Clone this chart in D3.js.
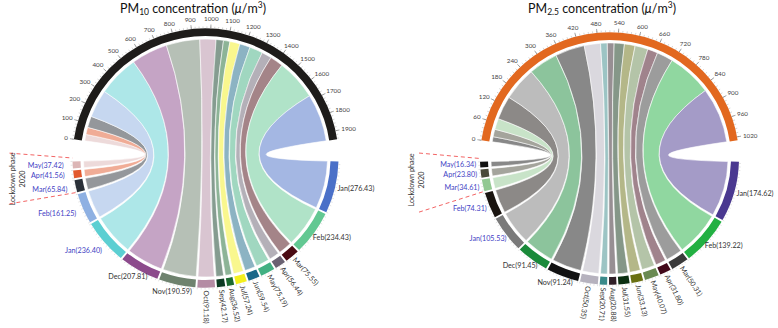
<!DOCTYPE html>
<html>
<head>
<meta charset="utf-8">
<script src="https://cdn.jsdelivr.net/npm/d3@7"></script>
<style>
body { margin: 0; background: #fff; }
svg { display: block; font-family: Lato, "Open Sans", sans-serif; }
</style>
</head>
<body>
<script>
// months, 2020 lockdown months first (clockwise from the left), then 2019
const months2020 = ["May", "Apr", "Mar", "Feb", "Jan"];
const months2019 = ["Dec", "Nov", "Oct", "Sep", "Aug", "Jul", "Jun", "May", "Apr", "Mar", "Feb", "Jan"];

const pm10_2020 = [37.42, 41.56, 65.84, 161.25, 236.40];
const pm10_2019 = [207.81, 190.59, 91.18, 42.17, 36.52, 57.24, 59.54, 75.19, 56.44, 75.55, 234.43, 276.43];
const pm25_2020 = [16.34, 23.80, 34.61, 74.31, 105.53];
const pm25_2019 = [91.45, 91.24, 50.35, 20.71, 20.88, 31.55, 33.13, 40.07, 31.80, 50.31, 139.22, 174.62];

const pm10Ticks = d3.range(0, 1901, 100);
const pm25Ticks = d3.range(0, 1021, 60);

const pm10Colors = ["#dcb6b6", "#e2592e", "#2a3038", "#8eb0e2", "#5ccfd2",
  "#8c4a8c", "#6e826e", "#b48ca4", "#0c3a22", "#1c6a30", "#f4f01e", "#1a6888",
  "#42b082", "#6a6272", "#4a0a12", "#62c892", "#4a70c8"];
const pm25Colors = ["#111111", "#4a4a3a", "#92c892", "#1a1410", "#7a7a7a",
  "#1a8a3a", "#111111", "#b6b2be", "#3a8a8a", "#302028", "#0c3012", "#6a7012",
  "#6a8a52", "#42081a", "#3a3a3a", "#22b042", "#4a3890"];

const W = 778, H = 328;
const svg = d3.select('body').append('svg')
  .attr('width', W)
  .attr('height', H);

function drawChord(o) {
  const vals = o.v2020.concat(o.v2019);
  const names = months2020.concat(months2019);
  const total = d3.sum(vals);
  const deg = Math.PI / 180;
  const half = 81.7 * deg;
  const pad = 1.5 * deg;
  const rOut = o.r, rIn = o.r - 8, rRib = o.r - 11;

  // value -> angle on the top (total) sector
  const angle = d3.scaleLinear().domain([0, total]).range([-half, half]);
  const k = 2 * half / total;
  const gap = (Math.PI - 2 * pad - total * k) / (vals.length - 1);

  let cur = 1.5 * Math.PI - pad, acc = 0;
  const segs = vals.map((v, i) => {
    const s = {
      name: names[i], value: v, i: i, is2020: i < 5,
      hi: cur, lo: cur - v * k,
      top0: angle(acc), top1: angle(acc + v),
      color: o.colors[i]
    };
    cur = s.lo - gap;
    acc += v;
    return s;
  });

  // the source figure is slightly squashed vertically
  const g = svg.append('g').attr('transform', `translate(${o.cx},${o.cy}) scale(1,0.975)`);
  const p = (r, a) => [r * Math.sin(a), -r * Math.cos(a)];

  // ribbons
  const ribbon = d3.ribbon().radius(rRib);
  g.selectAll('path.rib')
    .data(segs)
    .join('path')
    .attr('class', 'rib')
    .attr('d', d => ribbon({
      source: {startAngle: d.top0, endAngle: d.top1},
      target: {startAngle: d.lo, endAngle: d.hi}
    }))
    .attr('fill', d => d.color)
    .attr('fill-opacity', 0.5)
    .attr('stroke', '#fff')
    .attr('stroke-width', 0.6);

  const arc = d3.arc().innerRadius(rIn).outerRadius(rOut);

  // total sector
  g.append('path')
    .attr('d', arc({startAngle: -half, endAngle: half}))
    .attr('fill', o.topColor);

  // month sectors
  g.selectAll('path.seg')
    .data(segs)
    .join('path')
    .attr('class', 'seg')
    .attr('d', d => arc({startAngle: d.lo, endAngle: d.hi}))
    .attr('fill', d => d.color);

  // faint ticks on the month sectors
  segs.forEach(d => {
    d3.range(0, d.value, o.segStep).forEach(t => {
      const a = d.hi - t * k;
      const [x1, y1] = p(rOut, a), [x2, y2] = p(rOut + 2, a);
      g.append('line').attr('x1', x1).attr('y1', y1).attr('x2', x2).attr('y2', y2)
        .attr('stroke', '#c8c8c8').attr('stroke-width', 0.5);
    });
  });

  // minor ticks on the total sector
  d3.range(0, total, o.ticks[1] / 5).forEach(t => {
    const a = angle(t);
    const [x1, y1] = p(rOut, a), [x2, y2] = p(rOut + 2, a);
    g.append('line').attr('x1', x1).attr('y1', y1).attr('x2', x2).attr('y2', y2)
      .attr('stroke', '#aaa').attr('stroke-width', 0.5);
  });

  // major ticks + labels
  o.ticks.forEach(t => {
    const a = angle(t);
    const [x1, y1] = p(rOut, a), [x2, y2] = p(rOut + 4, a);
    g.append('line').attr('x1', x1).attr('y1', y1).attr('x2', x2).attr('y2', y2)
      .attr('stroke', '#666').attr('stroke-width', 0.6);
    const txt = g.append('text')
      .attr('font-size', 6.3)
      .attr('fill', '#444')
      .attr('text-anchor', 'middle')
      .attr('dominant-baseline', 'central')
      .text(t);
    const w = txt.node().getComputedTextLength();
    const [bx, by] = p(rOut + 6, a);
    txt.attr('x', bx + Math.sin(a) * w / 2).attr('y', by - Math.cos(a) * 4);
  });

  // month labels
  segs.forEach(d => {
    const mid = (d.lo + d.hi) / 2;
    const label = `${d.name}(${d.value.toFixed(2)})`;
    const rotated = !d.is2020 && d.i >= 7 && d.i <= 14;
    const txt = g.append('text')
      .attr('font-size', 7.2)
      .attr('fill', d.is2020 ? '#4242c4' : '#333')
      .attr('dominant-baseline', 'central')
      .text(label);
    if (rotated) {
      const [x, y] = p(rOut + 3, mid);
      txt.attr('text-anchor', 'start')
        .attr('transform', `translate(${x},${y}) rotate(${mid * 180 / Math.PI - 90})`);
    } else {
      const w = txt.node().getComputedTextLength();
      const [x, y] = p(rOut + (d.is2020 ? o.leftPad : 3), mid);
      txt.attr('text-anchor', 'middle')
        .attr('x', x + Math.sin(mid) * w / 2)
        .attr('y', y - Math.cos(mid) * 4);
    }
  });

  // lockdown phase marker
  const may = segs[0], mar = segs[2];
  const [ux, uy] = p(rOut, may.hi + pad), [lx, ly] = p(rOut, mar.lo);
  const lk = o.lock;
  g.append('line').attr('x1', lk.x).attr('y1', lk.top).attr('x2', ux).attr('y2', uy)
    .attr('stroke', '#f05050').attr('stroke-width', 0.9).attr('stroke-dasharray', '4,3');
  g.append('line').attr('x1', lk.x).attr('y1', lk.bottom).attr('x2', lx).attr('y2', ly)
    .attr('stroke', '#f05050').attr('stroke-width', 0.9).attr('stroke-dasharray', '4,3');
  const lt = g.append('text')
    .attr('transform', `translate(${lk.tx},${lk.ty}) rotate(-90)`)
    .attr('font-size', 7.5)
    .attr('fill', '#333')
    .attr('text-anchor', 'middle');
  lt.append('tspan').attr('x', 0).attr('y', 0).text('Lockdown phase');
  lt.append('tspan').attr('x', 0).attr('y', 10).text('2020');

  // title
  const title = svg.append('text')
    .attr('x', o.titleX)
    .attr('y', 12.5)
    .attr('text-anchor', 'middle')
    .attr('font-size', 12.5)
    .attr('fill', '#111');
  title.append('tspan').text('PM');
  title.append('tspan').attr('font-size', 8.5).attr('dy', 2.5).text(o.sub);
  title.append('tspan').attr('dy', -2.5).text(' concentration (');
  title.append('tspan').attr('font-style', 'italic').text('\u03bc');
  title.append('tspan').text('/m');
  title.append('tspan').attr('font-size', 8.5).attr('dy', -4.5).text('3');
  title.append('tspan').attr('dy', 4.5).text(')');
}

drawChord({
  v2020: pm10_2020, v2019: pm10_2019, colors: pm10Colors, ticks: pm10Ticks,
  topColor: '#1e1c1a', cx: 205.5, cy: 158, r: 133, segStep: 20, leftPad: 9,
  lock: {x: -196, top: -5, bottom: 47, tx: -190.5, ty: 21.5},
  titleX: 193, sub: '10'
});
drawChord({
  v2020: pm25_2020, v2019: pm25_2019, colors: pm25Colors, ticks: pm25Ticks,
  topColor: '#e2681f', cx: 609.5, cy: 158.5, r: 129.5, segStep: 10, leftPad: 4,
  lock: {x: -190.5, top: -5.6, bottom: 55, tx: -195.5, ty: 22},
  titleX: 602, sub: '2.5'
});
</script>
</body>
</html>
